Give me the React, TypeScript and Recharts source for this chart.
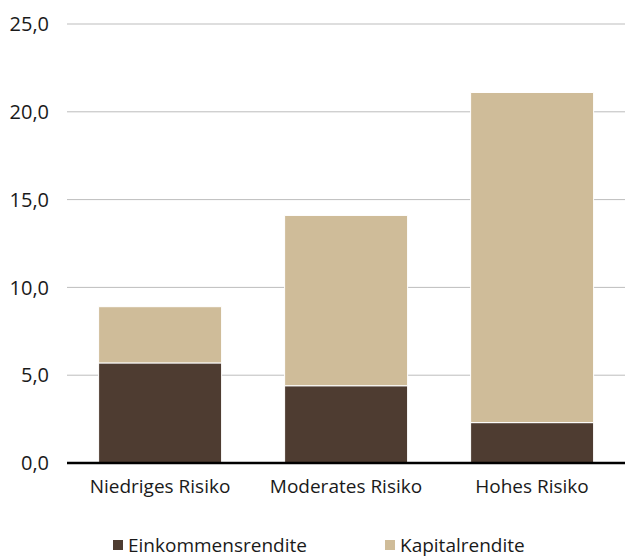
import { BarChart, Bar, XAxis, YAxis, CartesianGrid, Legend } from 'recharts';

// Renditekomponenten je Risikoprofil (in %)
const categories = ['Niedriges Risiko', 'Moderates Risiko', 'Hohes Risiko'];
const einkommensrendite = [5.7, 4.4, 2.3];
const kapitalrendite = [3.2, 9.7, 18.8];
const yTicks = [0, 5, 10, 15, 20, 25];

const seriesNames = ['Einkommensrendite', 'Kapitalrendite'];
const seriesColors = ['#4e3c31', '#cfbc99'];

const data = categories.map((name, i) => ({
  name,
  einkommen: einkommensrendite[i],
  kapital: kapitalrendite[i],
}));

const FONT = '"Open Sans", sans-serif';
const TEXT = '#1a1a1a';

function LegendContent() {
  return (
    <div
      style={{
        display: 'flex',
        fontFamily: FONT,
        fontSize: 19,
        lineHeight: '22px',
        color: TEXT,
        paddingLeft: 113,
        paddingTop: 31,
      }}
    >
      {seriesNames.map((n, i) => (
        <div key={n} style={{ display: 'flex', alignItems: 'center', width: i === 0 ? 272 : 'auto' }}>
          <span style={{ display: 'inline-block', width: 10, height: 10, background: seriesColors[i], marginRight: 5 }} />
          <span>{n}</span>
        </div>
      ))}
    </div>
  );
}

export default function App() {
  return (
    <div style={{ position: 'absolute', top: 0, left: 0, background: '#fff' }}>
      <BarChart
        width={625}
        height={557}
        data={data}
        margin={{ top: 24, right: 0, left: 0, bottom: 0 }}
        barCategoryGap="17%"
      >
        <CartesianGrid vertical={false} stroke="#bdbdbd" />
        <XAxis
          dataKey="name"
          height={40}
          tickLine={false}
          axisLine={{ stroke: '#000', strokeWidth: 2.5 }}
          tick={{ fontFamily: FONT, fontSize: 19, fill: TEXT }}
          tickMargin={11}
        />
        <YAxis
          width={67}
          domain={[0, 25]}
          ticks={yTicks}
          axisLine={false}
          tickLine={false}
          tickFormatter={(v: number) => v.toFixed(1).replace('.', ',')}
          tick={{ fontFamily: FONT, fontSize: 20, fill: TEXT }}
          tickMargin={12}
        />
        <Legend verticalAlign="bottom" height={54} content={() => <LegendContent />} />
        <Bar dataKey="einkommen" stackId="a" fill={seriesColors[0]} stroke="#fff" strokeWidth={1} isAnimationActive={false} />
        <Bar dataKey="kapital" stackId="a" fill={seriesColors[1]} stroke="#fff" strokeWidth={1} isAnimationActive={false} />
      </BarChart>
    </div>
  );
}
